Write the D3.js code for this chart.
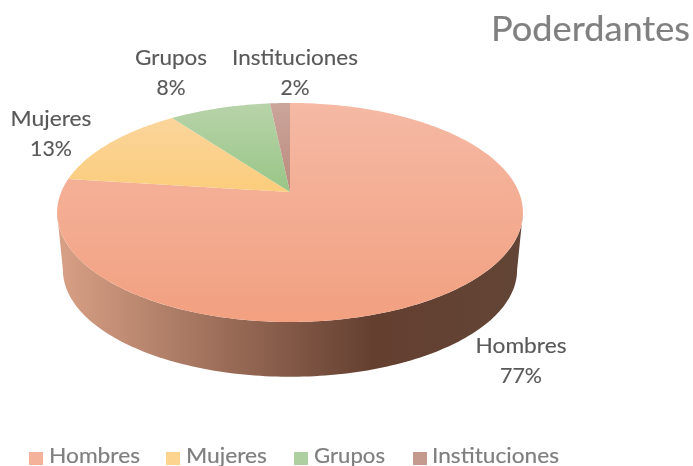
<!DOCTYPE html>
<html>
<head>
<meta charset="utf-8">
<script src="https://cdn.jsdelivr.net/npm/d3@7"></script>
<style>
  html, body { margin: 0; padding: 0; background: #fff; overflow: hidden; }
  text { font-family: Lato, "Open Sans", sans-serif; }
</style>
</head>
<body>
<div id="chart"></div>
<script>
// Chart data
var categories = ["Hombres", "Mujeres", "Grupos", "Instituciones"];
var values = [77, 12.9, 8.45, 1.65];

// Colours, light end and dark end of each slice gradient
var lightColors = ["#f5b9a4", "#fad6a2", "#b8d3aa", "#cba59b"];
var darkColors = ["#f2a080", "#fbcd7c", "#98c686", "#bb8a7d"];
var legendColors = ["#f4b29b", "#fdd48e", "#aecf9f", "#c49a8f"];

var svgWidth = 693;
var svgHeight = 466;

// Perspective of the disc: the centre sits above the middle of the ellipse
var centerX = 290;
var centerY = 192;
var radiusX = 228.8;
var radiusY = 105.7;
var tilt = 0.187;

// Rim at the bottom of the wall is a bit smaller and lower
var wallCenterY = 250;
var wallScale = 0.975;

// Label layout (centre x, first baseline)
var labelSpots = [[521, 353], [51, 126], [171, 65], [295, 65]];
var labelLengths = [91, 81, 72, 126];
var percentLengths = [42, 42, 29, 29];

// Legend layout
var legendMarkerX = [29, 166, 294, 413];
var legendTextX = [49, 186, 314, 432];
var legendLengths = [91, 81, 71, 127];

var svg = d3
  .select("#chart")
  .append("svg")
  .attr("width", svgWidth)
  .attr("height", svgHeight)
  .style("display", "block")
  .style("filter", "blur(0.45px)");

var defs = svg.append("defs");

// Project an angle (0 = top, clockwise) on the disc
function project(angle, r, cy, scale) {
  var u = Math.sin(angle) * r;
  var v = Math.cos(angle) * r;
  var d = 1 + tilt * v;
  return [centerX + (radiusX * scale * u) / d, cy - (radiusY * scale * v) / d];
}

// Sample the rim between two angles
function rim(a0, a1, cy, scale) {
  var n = Math.max(2, Math.ceil(Math.abs(a1 - a0) / 0.02));
  return d3.range(n + 1).map(function (i) {
    return project(a0 + ((a1 - a0) * i) / n, 1, cy, scale);
  });
}

var line = d3.line();

// Wall gradient runs from light on the left to dark brown on the right
var wallGradient = defs
  .append("linearGradient")
  .attr("id", "wallGradient")
  .attr("gradientUnits", "userSpaceOnUse")
  .attr("x1", 60)
  .attr("x2", 520)
  .attr("y1", 0)
  .attr("y2", 0);

[
  [0, "#d8a085"],
  [0.68, "#643f30"],
  [1, "#624536"],
].forEach(function (s) {
  wallGradient.append("stop").attr("offset", s[0]).attr("stop-color", s[1]);
});

// Draw the wall
var wallStart = Math.PI / 2 + Math.asin(tilt);
var wallEnd = (3 * Math.PI) / 2 - Math.asin(tilt);
var wallPoints = rim(wallStart, wallEnd, centerY, 1).concat(
  rim(wallEnd, wallStart, wallCenterY, wallScale)
);
svg
  .append("path")
  .attr("d", line(wallPoints) + "Z")
  .attr("fill", "url(#wallGradient)");

// Slices from d3.pie, keeping the given order
var pie = d3.pie().sort(null).value(function (d) { return d; });
var arcs = pie(values);

arcs.forEach(function (d, i) {
  var gradient = defs
    .append("linearGradient")
    .attr("id", "slice" + i)
    .attr("gradientUnits", "userSpaceOnUse")
    .attr("x1", 0)
    .attr("x2", 0)
    .attr("y1", 103)
    .attr("y2", i === 0 ? 322 : 192);
  gradient.append("stop").attr("offset", 0).attr("stop-color", lightColors[i]);
  gradient.append("stop").attr("offset", 1).attr("stop-color", darkColors[i]);

  var pts = [[centerX, centerY]].concat(rim(d.startAngle, d.endAngle, centerY, 1));
  svg
    .append("path")
    .attr("d", line(pts) + "Z")
    .attr("fill", "url(#slice" + i + ")");
});

// Title
svg
  .append("text")
  .attr("x", 491)
  .attr("y", 41)
  .attr("font-size", 35)
  .attr("fill", "#808080")
  .attr("stroke", "#808080")
  .attr("stroke-width", 0.2)
  .attr("textLength", 199)
  .attr("lengthAdjust", "spacingAndGlyphs")
  .text("Poderdantes");

// Data labels
var total = d3.sum(values);
var labels = svg
  .selectAll(".label")
  .data(categories)
  .enter()
  .append("g")
  .attr("class", "label")
  .attr("fill", "#595959")
  .attr("stroke", "#595959")
  .attr("stroke-width", 0.15)
  .attr("font-size", 22)
  .attr("text-anchor", "middle");

labels
  .append("text")
  .attr("x", function (d, i) { return labelSpots[i][0]; })
  .attr("y", function (d, i) { return labelSpots[i][1]; })
  .attr("textLength", function (d, i) { return labelLengths[i]; })
  .attr("lengthAdjust", "spacingAndGlyphs")
  .text(function (d) { return d; });

labels
  .append("text")
  .attr("x", function (d, i) { return labelSpots[i][0]; })
  .attr("y", function (d, i) { return labelSpots[i][1] + 29.5; })
  .attr("textLength", function (d, i) { return percentLengths[i]; })
  .attr("lengthAdjust", "spacingAndGlyphs")
  .text(function (d, i) { return Math.round((values[i] / total) * 100) + "%"; });

// Legend
var legend = svg
  .selectAll(".legend")
  .data(categories)
  .enter()
  .append("g")
  .attr("class", "legend");

legend
  .append("rect")
  .attr("x", function (d, i) { return legendMarkerX[i]; })
  .attr("y", 452)
  .attr("width", 14)
  .attr("height", 13)
  .attr("fill", function (d, i) { return legendColors[i]; });

legend
  .append("text")
  .attr("x", function (d, i) { return legendTextX[i]; })
  .attr("y", 463)
  .attr("font-size", 22)
  .attr("fill", "#7f7f7f")
  .attr("stroke", "#7f7f7f")
  .attr("stroke-width", 0.2)
  .attr("textLength", function (d, i) { return legendLengths[i]; })
  .attr("lengthAdjust", "spacingAndGlyphs")
  .text(function (d) { return d; });
</script>
</body>
</html>
